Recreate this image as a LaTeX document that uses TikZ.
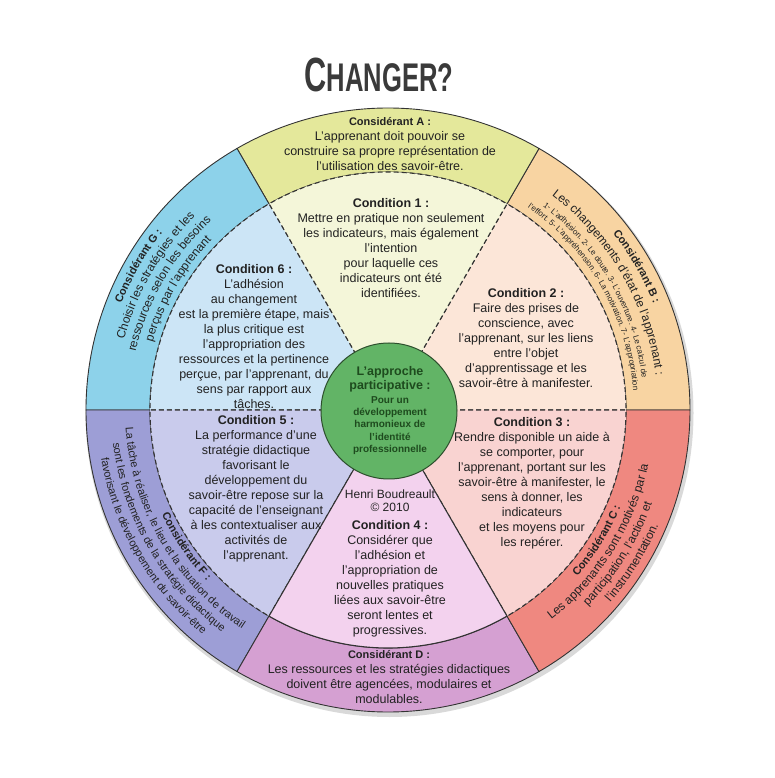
\documentclass[tikz,border=0pt]{standalone}
\usepackage{fontspec}
\setmainfont{Liberation Sans}
\usetikzlibrary{decorations.text}
\definecolor{ringA}{HTML}{E4E89B}
\definecolor{ringB}{HTML}{F8D4A2}
\definecolor{ringC}{HTML}{EF8880}
\definecolor{ringD}{HTML}{D5A0D2}
\definecolor{ringF}{HTML}{9D9ED6}
\definecolor{ringG}{HTML}{8DD2EA}
\definecolor{condA}{HTML}{F4F6D9}
\definecolor{condB}{HTML}{FCE6D8}
\definecolor{condC}{HTML}{F9D3D1}
\definecolor{condD}{HTML}{F3D2EE}
\definecolor{condF}{HTML}{C9CBEC}
\definecolor{condG}{HTML}{CCE5F6}
\definecolor{greenf}{HTML}{62B466}
\definecolor{greenb}{HTML}{2D4F2D}
\definecolor{greent}{HTML}{1E4B1E}
\definecolor{linec}{HTML}{333333}
\definecolor{txt}{HTML}{222222}
\definecolor{titlec}{HTML}{3A3A3A}
\newcommand\rkBold{\fontsize{11}{13}\selectfont\bfseries}
\newcommand\rkMain{\fontsize{12}{14}\selectfont}
\newcommand\rkSmall{\fontsize{8}{9}\selectfont}
\newcommand\rkF{\fontsize{11}{13}\selectfont}
\newcommand\ringtext[5]{\path[decorate,decoration={text along path,text align=center,text color=txt,text={|#4|#5}}] (#2:#1pt) arc[start angle=#2,end angle=#3,radius=#1pt];}
\begin{document}
\begin{tikzpicture}[x=1pt,y=1pt,
  seg/.style={draw=linec,line width=0.9pt},
  wedge/.style={draw=linec,line width=1.1pt,dash pattern=on 5pt off 3pt},
  wedgesolid/.style={draw=linec,line width=1.1pt},
  cond/.style={align=center,text=txt,inner sep=0pt,font=\fontsize{12.5}{15}\selectfont},
  cons/.style={align=center,text=txt,inner sep=0pt,font=\fontsize{12.5}{15}\selectfont}]
\useasboundingbox (-388,-368) rectangle (387,410);
\fill[black,opacity=0.15] (1.5,-3) circle[radius=304pt];
\foreach \s/\e/\col in {0/60/ringB,60/120/ringA,120/180/ringG,180/240/ringF,240/300/ringD,300/360/ringC}{
  \filldraw[seg,fill=\col] (\s:238pt) arc[start angle=\s,end angle=\e,radius=238pt] -- (\e:302pt) arc[start angle=\e,end angle=\s,radius=302pt] -- cycle;}
\foreach \s/\e/\col in {0/60/condB,60/120/condA,120/180/condG,180/240/condF,300/360/condC}{
  \filldraw[wedge,fill=\col] (0,0) -- (\s:238pt) arc[start angle=\s,end angle=\e,radius=238pt] -- cycle;}
\filldraw[wedgesolid,fill=condD] (0,0) -- (240:238pt) arc[start angle=240,end angle=300,radius=238pt] -- cycle;
\node[circle,fill=greenf,draw=greenb,line width=1pt,minimum size=136pt,inner sep=0pt] (hub) at (1,-1) {};
\node[align=center,text=greent,font=\fontsize{12.5}{14}\selectfont\bfseries,inner sep=0pt] (hubtitle) at (2,30.3) {L'approche\\participative :};
\node[align=center,text=greent,font=\fontsize{10}{12.3}\selectfont\bfseries,inner sep=0pt] (hubsub) at (2,-15.3) {Pour un\\développement\\harmonieux de\\l'identité\\professionnelle};
\node[anchor=base,text=titlec,inner sep=0pt] (title) at (-9,318) {\scalebox{0.64}[1]{\bfseries\fontsize{48}{48}\selectfont C\fontsize{40}{40}\selectfont HANGER?}};
\node[cons] (consA) at (2,265.5) {{\fontsize{11}{15}\selectfont\bfseries Considérant A :}\\L'apprenant doit pouvoir se\\construire sa propre représentation de\\l'utilisation des savoir-être.};
\node[cons] (consD) at (1,-267.5) {{\fontsize{11}{15}\selectfont\bfseries Considérant D :}\\Les ressources et les stratégies didactiques\\doivent être agencées, modulaires et\\modulables.};
\node[cond] (c1) at (3,162) {{\bfseries Condition 1 :}\\Mettre en pratique non seulement\\les indicateurs, mais également\\l'intention\\pour laquelle ces\\indicateurs ont été\\identifiées.};
\node[cond] (c2) at (138,72) {{\bfseries Condition 2 :}\\Faire des prises de\\conscience, avec\\l'apprenant, sur les liens\\entre l'objet\\d'apprentissage et les\\savoir-être à manifester.};
\node[cond] (c3) at (144,-73) {{\bfseries Condition 3 :}\\Rendre disponible un aide à\\se comporter, pour\\l'apprenant, portant sur les\\savoir-être à manifester, le\\sens à donner, les\\indicateurs\\et les moyens pour\\les repérer.};
\node[cond] (c4) at (2,-168.5) {{\bfseries Condition 4 :}\\Considérer que\\l'adhésion et\\l'appropriation de\\nouvelles pratiques\\liées aux savoir-être\\seront lentes et\\progressives.};
\node[cond] (c5) at (-132,-79) {{\bfseries Condition 5 :}\\La performance d'une\\stratégie didactique\\favorisant le\\développement du\\savoir-être repose sur la\\capacité de l'enseignant\\à les contextualiser aux\\activités de\\l'apprenant.};
\node[cond] (c6) at (-134,73.5) {{\bfseries Condition 6 :}\\L'adhésion\\au changement\\est la première étape, mais\\la plus critique est\\l'appropriation des\\ressources et la pertinence\\perçue,  par l'apprenant, du\\sens par rapport aux\\tâches.};
\node[align=center,text=txt,inner sep=0pt,font=\fontsize{12}{13}\selectfont] (author) at (2,-90.5) {Henri Boudreault\\© 2010};
\ringtext{286}{59}{1}{\rkBold}{Considérant B :}
\ringtext{270}{59}{1}{\rkMain}{Les changements d'état de l'apprenant :}
\ringtext{256}{60}{0}{\rkSmall}{1- L'adhésion. 2- Le doute. 3- L'ouverture. 4- Le calcul de}
\ringtext{246}{60}{0}{\rkSmall}{l'effort. 5- L'appréhension. 6- La motivation. 7- L'appropriation}
\ringtext{287}{179}{121}{\rkBold}{Considérant G :}
\ringtext{273}{179}{121}{\rkMain}{Choisir les stratégies et les}
\ringtext{259}{179}{121}{\rkMain}{ressources selon les besoins}
\ringtext{245}{179}{121}{\rkMain}{perçus par l'apprenant}
\ringtext{252}{-61}{-3}{\rkBold}{Considérant C :}
\ringtext{266}{-61}{-3}{\rkMain}{Les apprenants sont motivés par la}
\ringtext{280}{-61}{-3}{\rkMain}{participation, l'action et}
\ringtext{294}{-61}{-3}{\rkMain}{l'instrumentation.}
\ringtext{249}{184}{244}{\rkBold}{Considérant F :}
\ringtext{263}{181}{239}{\rkF}{La tâche à réaliser, le lieu et la situation de travail}
\ringtext{277}{181}{239}{\rkF}{sont les fondements de la stratégie didactique}
\ringtext{291}{181}{239}{\rkF}{favorisant le développement du savoir-être}
\end{tikzpicture}
\end{document}
